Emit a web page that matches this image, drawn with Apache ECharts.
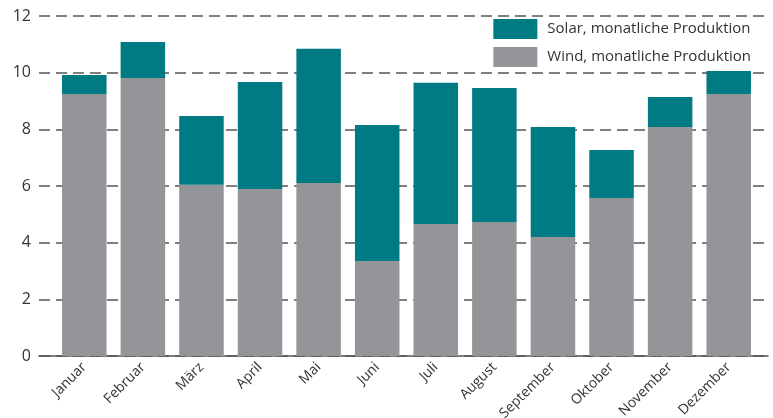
<!DOCTYPE html>
<html><head><meta charset="utf-8">
<script src="https://cdn.jsdelivr.net/npm/echarts@6/dist/echarts.min.js"></script>
<style>html,body{margin:0;padding:0;background:#fff}#c{width:773px;height:418px}</style>
</head><body><div id="c"></div>
<script>
const categories = ['Januar','Februar','März','April','Mai','Juni','Juli','August','September','Oktober','November','Dezember'];
const wind = [9.25, 9.81, 6.04, 5.89, 6.11, 3.35, 4.66, 4.73, 4.20, 5.58, 8.08, 9.25];
const solar = [0.67, 1.27, 2.43, 3.78, 4.73, 4.80, 4.98, 4.73, 3.88, 1.69, 1.06, 0.81];
const yTicks = [0, 2, 4, 6, 8, 10, 12];

const font = 'Open Sans';
const chart = echarts.init(document.getElementById('c'));
chart.setOption({
  animation: false,
  textStyle: {fontFamily: font},
  grid: [
    {left: 39, right: 5, top: 16, bottom: 62, outerBoundsMode: 'none', containLabel: false},
    {left: 55, right: 15, top: 16, bottom: 62, outerBoundsMode: 'none', containLabel: false}
  ],
  legend: {
    orient: 'vertical', right: 17, top: 14, itemWidth: 44, itemHeight: 20, itemGap: 8,
    icon: 'rect',
    textStyle: {fontFamily: font, fontSize: 15, color: '#333', padding: [0, 0, 0, 5]},
    data: ['Solar, monatliche Produktion', 'Wind, monatliche Produktion']
  },
  xAxis: [
    {type: 'value', gridIndex: 0, min: 0, max: 1, show: true, axisLabel: {show: false}, axisTick: {show: false}, splitLine: {show: false},
      axisLine: {show: true, lineStyle: {color: '#555', width: 1.5}}},
    {type: 'category', gridIndex: 1, data: categories, axisLine: {show: false}, axisTick: {show: false},
      axisLabel: {rotate: 45, fontSize: 14, color: '#333', margin: 9, fontFamily: font}}
  ],
  yAxis: [
    {type: 'value', gridIndex: 0, min: 0, max: 12, interval: 2, axisLine: {show: false}, axisTick: {show: false},
      axisLabel: {fontSize: 16, color: '#333', margin: 8, fontFamily: font, formatter: v => yTicks.includes(v) ? String(v) : ''},
      splitLine: {lineStyle: {color: '#555', width: 1.5, type: [11, 6]}}},
    {type: 'value', gridIndex: 1, min: 0, max: 12, interval: 2, show: false}
  ],
  series: [
    {name: 'Wind, monatliche Produktion', type: 'bar', stack: 't', xAxisIndex: 1, yAxisIndex: 1, data: wind,
      barCategoryGap: '24%', itemStyle: {color: '#939598'}},
    {name: 'Solar, monatliche Produktion', type: 'bar', stack: 't', xAxisIndex: 1, yAxisIndex: 1, data: solar,
      barCategoryGap: '24%', itemStyle: {color: '#007A83'}}
  ]
});
</script></body></html>
